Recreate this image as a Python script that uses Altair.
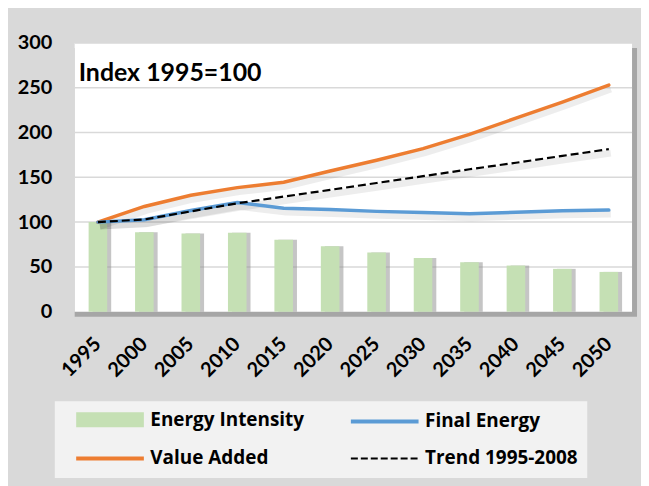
import altair as alt
import pandas as pd

# ---------------- data ----------------
years = ["1995", "2000", "2005", "2010", "2015", "2020", "2025", "2030",
         "2035", "2040", "2045", "2050"]
energy_intensity = [100, 88.6, 87.4, 88.2, 80.4, 73.0, 66.0, 60.0, 55.2, 51.5, 47.8, 44.4]
final_energy = [100, 102.7, 113.0, 122.0, 115.6, 114.0, 112.0, 110.8, 109.3, 111.0, 112.6, 113.4]
value_added = [100, 117.5, 130.0, 138.5, 144.5, 157.0, 169.0, 182.0, 198.0, 216.0, 234.0, 253.0]
trend = [100, 103.0, 112.0, 121.0, 128.5, 136.0, 143.7, 151.3, 159.0, 166.3, 173.9, 181.5]

# legend order (column-major): Energy Intensity, Value Added | Final Energy, Trend
series_names = ["Energy Intensity", "Value Added", "Final Energy", "Trend 1995-2008"]
series_colors = ["#c5e0b4", "#ed7d31", "#5b9bd5", "#000000"]
series_values = [energy_intensity, value_added, final_energy, trend]
y_ticks = [0, 50, 100, 150, 200, 250, 300]
annotation = ["Index 1995=100"]

rows = []
for name, vals in zip(series_names, series_values):
    for yr, v in zip(years, vals):
        rows.append({"year": yr, "series": name, "value": v})
df = pd.DataFrame(rows)
grid_df = pd.DataFrame({"tick": y_ticks[1:]})
one_df = pd.DataFrame({"label": annotation})

FONT = "Lato"
LEGEND_FONT = "Open Sans"

x_enc = alt.X(
    "year:N", sort=years, title=None,
    scale=alt.Scale(paddingInner=0.6, paddingOuter=0.3),
    axis=alt.Axis(labelAngle=-45, labelAlign="right", labelBaseline="middle",
                  labelPadding=29, ticks=False, domain=False, grid=False,
                  labelFont=FONT, labelFontSize=20, labelFontWeight="bold",
                  labelColor="black"),
)
y_enc = alt.Y(
    "value:Q", title=None,
    scale=alt.Scale(domain=[0, 300], nice=False),
    axis=alt.Axis(values=y_ticks, ticks=False, domain=False, grid=False,
                  labelPadding=23, labelFont=FONT, labelFontSize=20,
                  labelFontWeight="bold", labelColor="black"),
)

EI = "Energy Intensity"
TR = "Trend 1995-2008"
legend = alt.Legend(
    title=None, orient="none", legendX=-20, legendY=360, columns=2,
    columnPadding=34, rowPadding=16, padding=9, fillColor="#f2f2f2",
    symbolSize=400,
    symbolType={"expr": (
        f"datum.value === '{EI}' ? 'M0.3,-0.55H7.1M0.3,-0.2H7.1M0.3,0.2H7.1M0.3,0.55H7.1' : "
        "'M0.3,0H7.1'")},
    symbolStrokeWidth={"expr": f"datum.value === '{TR}' ? 2 : 4"},
    symbolDash={"expr": f"datum.value === '{TR}' ? [7,3] : []"},
    symbolStrokeColor={"expr": "scale('color', datum.value)"},
    symbolFillColor="transparent",
    symbolOpacity=1,
    labelOffset=68, labelFont=LEGEND_FONT, labelFontSize=19, labelFontWeight="bold",
    labelColor="black",
)
color_enc = alt.Color(
    "series:N",
    scale=alt.Scale(domain=series_names, range=series_colors),
    legend=legend,
)

base = alt.Chart(df)

plot_shadow = alt.Chart(one_df).mark_rect(
    color="#a6a6a6", xOffset=5, x2Offset=5, yOffset=5, y2Offset=5
).encode(y=alt.YDatum(0, title=None), y2=alt.datum(300))
plot_bg = alt.Chart(one_df).mark_rect(color="white").encode(
    y=alt.YDatum(0, title=None), y2=alt.datum(300))
grid = alt.Chart(grid_df).mark_rule(color="#d9d9d9", strokeWidth=1.5).encode(
    y=alt.Y("tick:Q", title=None))

bars_shadow = base.transform_filter(alt.datum.series == EI).mark_bar(
    color="#8c8c8c", opacity=0.5, xOffset=4
).encode(x=x_enc, y=y_enc)
bars = base.transform_filter(alt.datum.series == EI).mark_bar(opacity=1).encode(
    x=x_enc, y=y_enc, color=color_enc)

lines_shadow = base.transform_filter(alt.datum.series != EI).mark_line(
    color="#000000", opacity=0.07, strokeWidth=7, xOffset=2, yOffset=4
).encode(x=x_enc, y=y_enc, detail="series:N")
lines = base.transform_filter(
    alt.FieldOneOfPredicate(field="series", oneOf=["Final Energy", "Value Added"])
).mark_line(strokeWidth=3.5, strokeCap="round").encode(
    x=x_enc, y=y_enc, color=color_enc)
trend_line = base.transform_filter(alt.datum.series == TR).mark_line(
    strokeWidth=2.2, strokeDash=[8, 4]
).encode(x=x_enc, y=y_enc, color=color_enc)

title_text = alt.Chart(one_df).mark_text(
    align="left", baseline="alphabetic", font=FONT, fontSize=25,
    fontWeight="bold", color="black"
).encode(x=alt.value(4), y=alt.value(38), text="label:N")

chart = alt.layer(
    plot_shadow, plot_bg, grid, bars_shadow, bars, lines_shadow, lines,
    trend_line, title_text
).properties(
    width=560, height=270,
    padding={"left": 67, "top": 34, "right": 9, "bottom": 174},
    autosize="none",
    background="#d9d9d9",
).configure_view(strokeWidth=0)

chart.save("out.html", embed_options={"renderer": "svg", "actions": False})
